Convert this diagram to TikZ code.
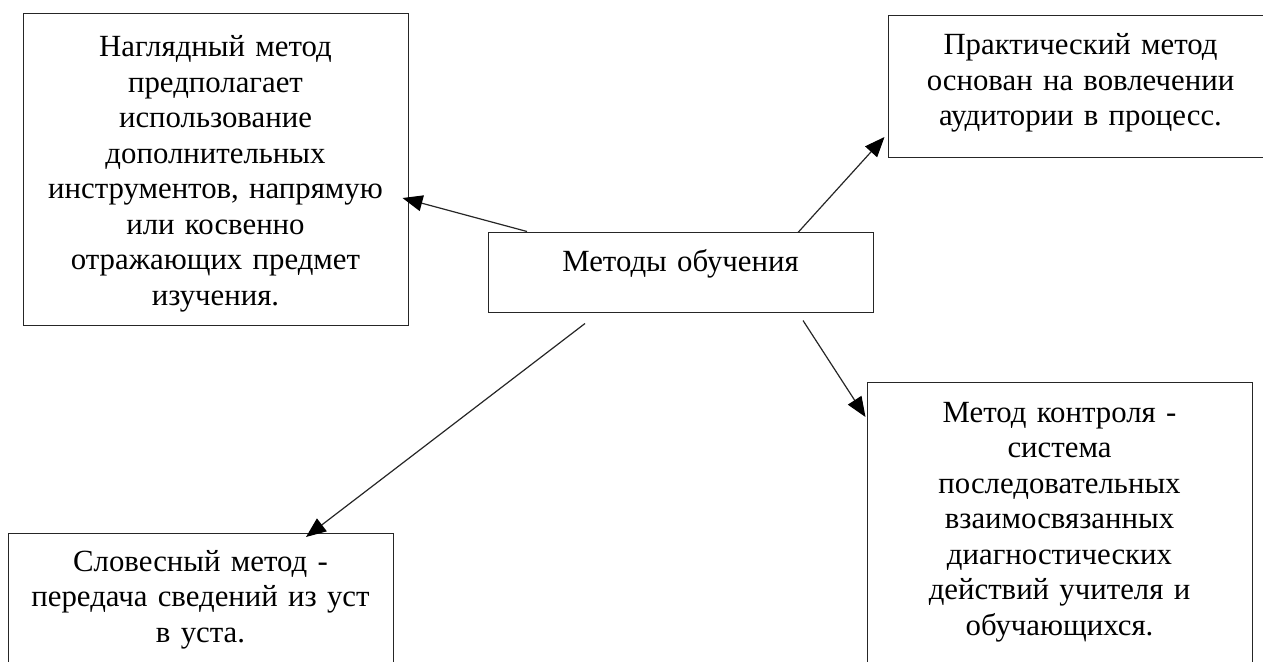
\documentclass[tikz,border=0pt]{standalone}
\usepackage{fontspec}
\setmainfont{Liberation Serif}
\usetikzlibrary{arrows.meta,positioning}

\begin{document}
\begin{tikzpicture}
	 [scale =1]
	 \tikzset{node distance =2cm, auto}
	\tikzstyle{frame}=[rectangle,draw=black!85,line width=1pt,inner sep=0pt,minimum width=385pt]
	\tikzstyle{txt}=[inner sep=0pt,text width=384pt,align=center,font=\fontsize{30.8}{35.5}\selectfont]
	\tikzstyle{link}=[draw=black!85,line width=1.2pt,-{Triangle[length=20pt,width=16pt,color=black]}]
	\useasboundingbox (0pt,0pt) rectangle (1263pt,-661pt);
	\clip (0pt,0pt) rectangle (1263pt,-661pt);
	% boxes and their texts
	\node [frame,minimum height=80pt] (hub) at (680.5 pt,-272.0 pt) {};
	\node [txt,below=15pt of hub.north] (hubtxt) {\strut Методы обучения};
	\node [frame,minimum height=311pt] (visual) at (215.5 pt,-169.5 pt) {};
	\node [txt,below=18pt of visual.north] (visualtxt) {\strut Наглядный метод\\ предполагает\\ использование\\ дополнительных\\ инструментов, напрямую\\ или косвенно\\ отражающих предмет\\ изучения.};
	\node [frame,minimum height=141pt] (practical) at (1080.5 pt,-86.5 pt) {};
	\node [txt,below=14pt of practical.north] (practicaltxt) {\strut Практический метод\\ основан на вовлечении\\ аудитории в процесс.};
	\node [frame,minimum height=330pt,anchor=north] (control) at (1059.5 pt,-382.0 pt) {};
	\node [txt,below=15pt of control.north] (controltxt) {\strut Метод контроля -\\ система\\ последовательных\\ взаимосвязанных\\ диагностических\\ действий учителя и\\ обучающихся.};
	\node [frame,minimum height=200pt,anchor=north] (verbal) at (200.5 pt,-533.0 pt) {};
	\node [txt,below=13pt of verbal.north] (verbaltxt) {\strut Словесный метод -\\ передача сведений из уст\\ в уста.};
	% arrows from the hub
	\draw [link] ([xshift=-153.5pt]hub.north) -- ([xshift=-6pt,yshift=-28.5pt]visual.east);
	\draw [link] ([xshift=117.5pt,yshift=-1pt]hub.north) -- ([xshift=-3pt,yshift=-50.5pt]practical.west);
	\draw [link] ([xshift=122.5pt,yshift=-8pt]hub.south) -- ([xshift=-1pt,yshift=-35pt]control.north west);
	\draw [link] ([xshift=-95.5pt,yshift=-11pt]hub.south) -- ([xshift=105.5pt,yshift=-4pt]verbal.north);
	\end{tikzpicture}
\end{document}
